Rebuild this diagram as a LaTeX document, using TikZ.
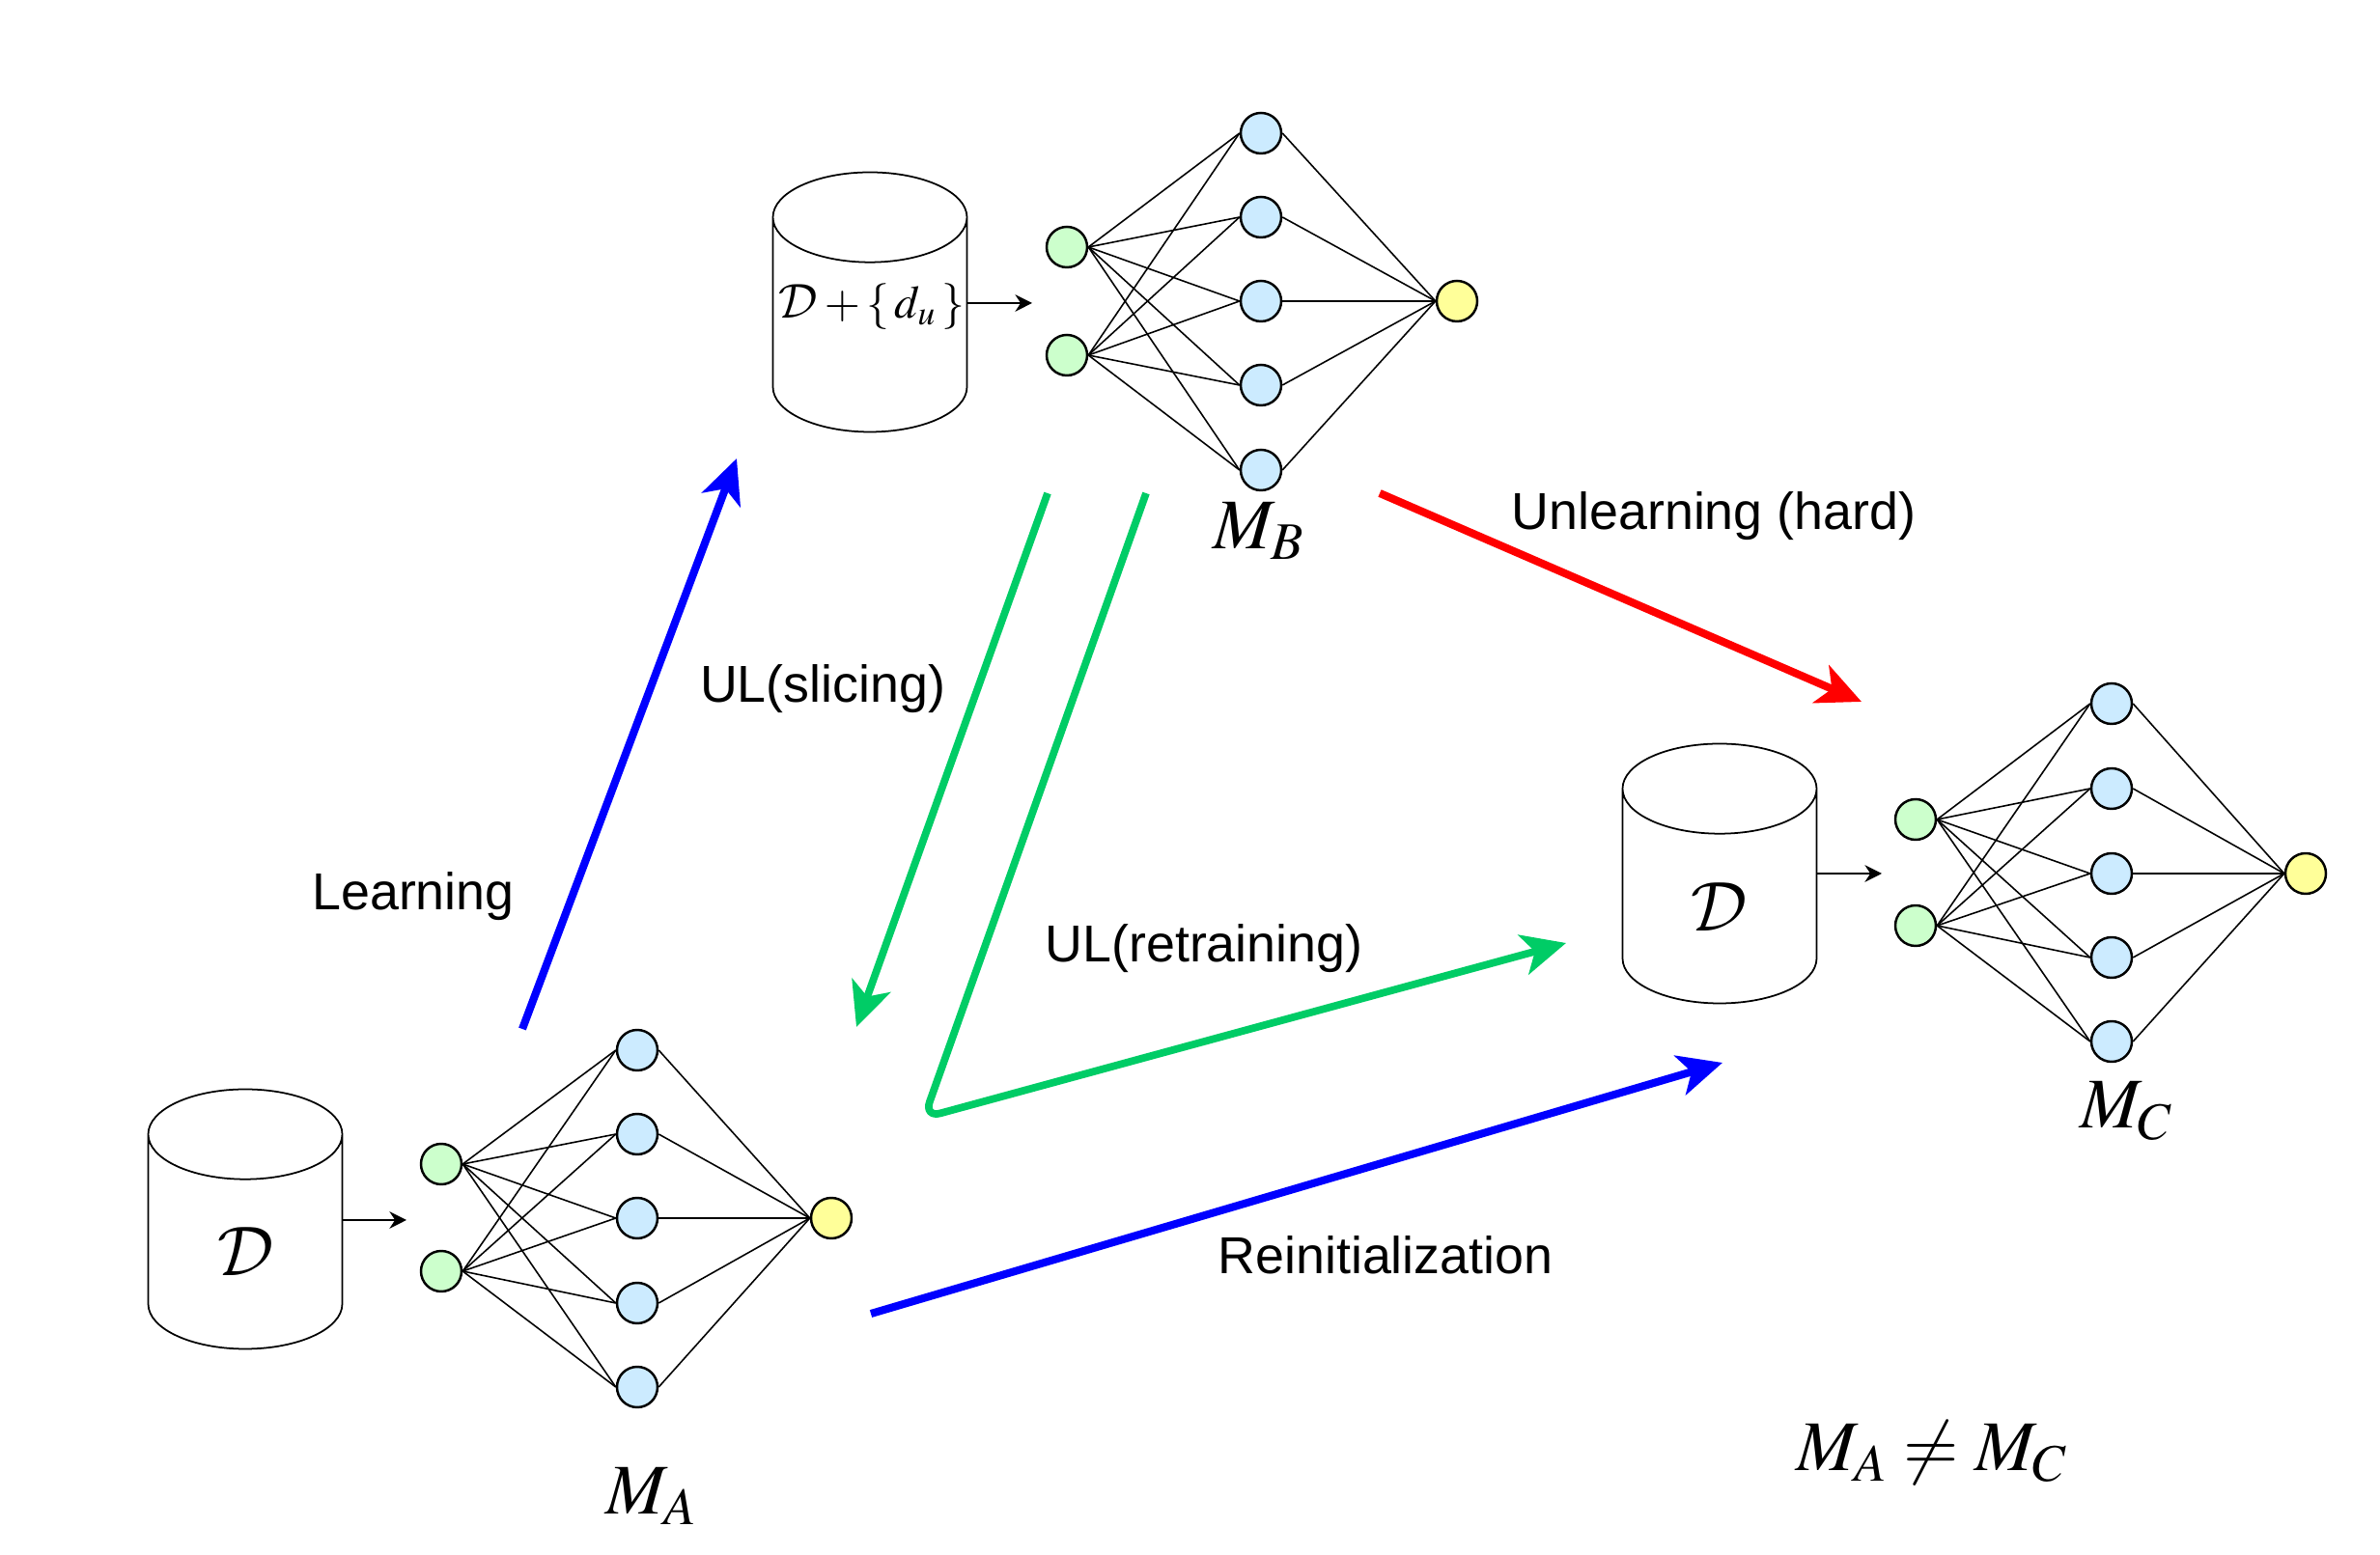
\documentclass[tikz,border=0pt]{standalone}
\usepackage{mathptmx}
\usepackage[no-math]{fontspec}
\setmainfont{Liberation Sans}
\DeclareMathAlphabet{\mathcal}{OMS}{cmsy}{m}{n}
\usepackage{tikz}
\usetikzlibrary{arrows.meta,shapes.geometric}

\begin{document}
\begin{tikzpicture}[
		inp/.style={circle,draw,line width=0.7pt,fill=inpfill,minimum size=0.42cm,inner sep=0pt},
		hid/.style={circle,draw,line width=0.7pt,fill=hidfill,minimum size=0.42cm,inner sep=0pt},
		outp/.style={circle,draw,line width=0.7pt,fill=outfill,minimum size=0.42cm,inner sep=0pt},
		store/.style={cylinder,shape border rotate=90,draw,line width=0.5pt,aspect=1.6,minimum width=2.01cm,minimum height=2.69cm,inner sep=0pt,outer sep=0pt,anchor=shape center,font=\fontsize{20}{24}\selectfont},
		wire/.style={line width=0.45pt},
		feed/.style={-{Stealth[length=5pt,width=5pt]},line width=0.5pt},
		flow/.style={-{Stealth[length=13pt,width=12pt,inset=3.5pt]},line width=2.3pt},
		ulflow/.style={-{Stealth[length=13pt,width=12pt,inset=3.5pt]},line width=2.2pt,ulgreen},
		caption/.style={font=\fontsize{15.3}{18}\selectfont},
		mlabel/.style={font=\fontsize{21}{25}\selectfont}]
	\definecolor{inpfill}{HTML}{CCFFCC}
	\definecolor{hidfill}{HTML}{CCEBFF}
	\definecolor{outfill}{HTML}{FFFF99}
	\definecolor{ulgreen}{HTML}{00CC66}
	\useasboundingbox (0,0) rectangle (24.65,16.11);
	%% define stores
	\node (da) at (2.54,3.48) [store] {\phantom{$\mathcal{D}$}};
	\node (db) at (9.01,12.98) [store] {\phantom{$\mathcal{D}$}};
	\node (dc) at (17.81,7.06) [store] {\phantom{$\mathcal{D}$}};
	\node (tda) at (2.55,3.14) [font=\fontsize{20}{24}\selectfont] {$\mathcal{D}$};
	\node (tdb) at (9.03,12.93) [font=\fontsize{13.6}{18}\selectfont] {$\mathcal{D}+\{\,d_u\,\}$};
	\node (tdc) at (17.81,6.71) [font=\fontsize{20}{24}\selectfont] {$\mathcal{D}$};
	%% define network A
	\node (ag1) at (4.57,4.05) [inp] {};
	\node (ag2) at (4.57,2.94) [inp] {};
	\node (ah1) at (6.60,5.23) [hid] {};
	\node (ah2) at (6.60,4.36) [hid] {};
	\node (ah3) at (6.60,3.49) [hid] {};
	\node (ah4) at (6.60,2.61) [hid] {};
	\node (ah5) at (6.60,1.74) [hid] {};
	\node (ay) at (8.61,3.49) [outp] {};
	%% define network B
	\node (bg1) at (11.05,13.55) [inp] {};
	\node (bg2) at (11.05,12.43) [inp] {};
	\node (bh1) at (13.06,14.73) [hid] {};
	\node (bh2) at (13.06,13.86) [hid] {};
	\node (bh3) at (13.06,12.99) [hid] {};
	\node (bh4) at (13.06,12.12) [hid] {};
	\node (bh5) at (13.06,11.24) [hid] {};
	\node (by) at (15.09,12.99) [outp] {};
	%% define network C
	\node (cg1) at (19.84,7.62) [inp] {};
	\node (cg2) at (19.84,6.52) [inp] {};
	\node (ch1) at (21.87,8.82) [hid] {};
	\node (ch2) at (21.87,7.94) [hid] {};
	\node (ch3) at (21.87,7.06) [hid] {};
	\node (ch4) at (21.87,6.19) [hid] {};
	\node (ch5) at (21.87,5.32) [hid] {};
	\node (cy) at (23.88,7.06) [outp] {};
	%% define wires
	\foreach \n in {a,b,c} {
		\foreach \i in {1,...,5} {
			\draw[wire] (\n g1.east) -- (\n h\i.west);
			\draw[wire] (\n g2.east) -- (\n h\i.west);
			\draw[wire] (\n h\i.east) -- (\n y.west);
		}
	}
	%% define free ends
	\coordinate (fa) at (4.21,3.47);
	\coordinate (fb) at (10.69,12.97);
	\coordinate (fc) at (19.49,7.06);
	\coordinate (learn0) at (5.41,5.45);
	\coordinate (learn1) at (7.63,11.36);
	\coordinate (slice0) at (10.85,11.00);
	\coordinate (slice1) at (8.87,5.47);
	\coordinate (retr0) at (11.87,11.00);
	\coordinate (retr1) at (9.57,4.53);
	\coordinate (retr2) at (16.22,6.34);
	\coordinate (hard0) at (14.29,11.00);
	\coordinate (hard1) at (19.28,8.84);
	\coordinate (reinit0) at (9.02,2.50);
	\coordinate (reinit1) at (17.84,5.10);
	%% define arrows
	\draw[feed] (da.east |- fa) -- (fa);
	\draw[feed] (db.east |- fb) -- (fb);
	\draw[feed] (dc.east |- fc) -- (fc);
	\draw[flow,blue] (learn0) -- (learn1);
	\draw[ulflow] (slice0) -- (slice1);
	\draw[ulflow,rounded corners=5pt] (retr0) -- (retr1) -- (retr2);
	\draw[flow,red] (hard0) -- (hard1);
	\draw[flow,blue] (reinit0) -- (reinit1);
	%% define labels
	\node (tlearn) at (4.28,6.82) [caption] {Learning};
	\node (tslice) at (8.52,8.97) [caption] {UL(slicing)};
	\node (tretr) at (12.47,6.28) [caption] {UL(retraining)};
	\node (thard) at (17.75,10.76) [caption] {Unlearning (hard)};
	\node (treinit) at (14.35,3.11) [caption] {Reinitialization};
	\node (ma) at (6.75,0.61) [mlabel] {$M_A$};
	\node (mb) at (13.04,10.61) [mlabel] {$M_B$};
	\node (mc) at (22.03,4.60) [mlabel] {$M_C$};
	\node (mneq) at (20.01,1.06) [mlabel] {$M_A \neq M_C$};
\end{tikzpicture}
\end{document}
